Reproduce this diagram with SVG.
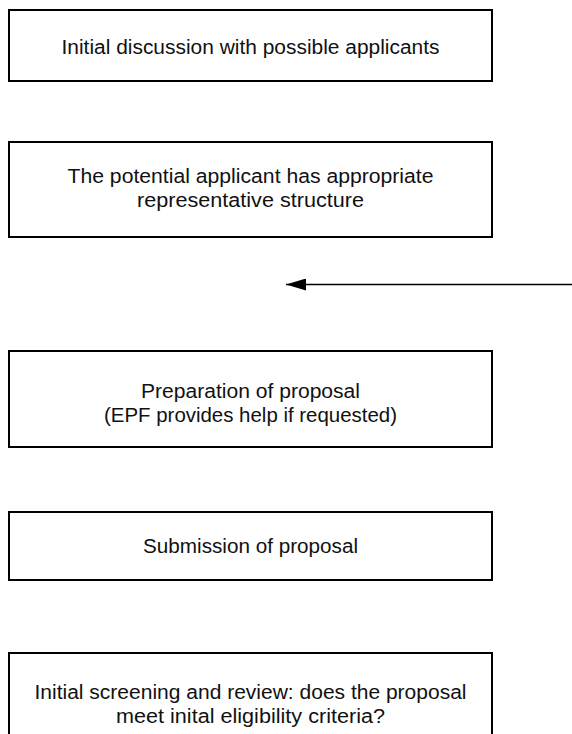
<svg xmlns="http://www.w3.org/2000/svg" width="572" height="734" viewBox="0 0 572 734">
<style>
.box{fill:#fff;stroke:#000;stroke-width:2}
.t{font-family:"Liberation Sans",Arial,sans-serif;font-size:20px;fill:#111;text-anchor:middle}
.c{stroke:#000;stroke-width:1.3;fill:none}
</style>
<defs>
<marker id="ah" markerWidth="20" markerHeight="12" refX="20" refY="6" orient="auto" markerUnits="userSpaceOnUse">
<path d="M0,0 L20,6 L0,12 Z" fill="#000"/>
</marker>
</defs>
<rect width="572" height="734" fill="#fff"/>
<g id="n1"><rect class="box" x="9" y="10" width="483" height="71"/><text class="t" x="250.5" y="54" textLength="378" lengthAdjust="spacingAndGlyphs">Initial discussion with possible applicants</text></g>
<g id="n2"><rect class="box" x="9" y="142" width="483" height="95"/><text class="t" x="250.5" y="183" textLength="366" lengthAdjust="spacingAndGlyphs">The potential applicant has appropriate</text><text class="t" x="250.5" y="207" textLength="227" lengthAdjust="spacingAndGlyphs">representative structure</text></g>
<g id="n3"><rect class="box" x="9" y="351" width="483" height="96"/><text class="t" x="250.5" y="398" textLength="219" lengthAdjust="spacingAndGlyphs">Preparation of proposal</text><text class="t" x="250.5" y="422" textLength="293" lengthAdjust="spacingAndGlyphs">(EPF provides help if requested)</text></g>
<g id="n4"><rect class="box" x="9" y="512" width="483" height="68"/><text class="t" x="250.5" y="553" textLength="215" lengthAdjust="spacingAndGlyphs">Submission of proposal</text></g>
<g id="n5"><rect class="box" x="9" y="653" width="483" height="90"/><text class="t" x="250.5" y="699" textLength="432" lengthAdjust="spacingAndGlyphs">Initial screening and review: does the proposal</text><text class="t" x="250.5" y="723" textLength="269" lengthAdjust="spacingAndGlyphs">meet inital eligibility criteria?</text></g>
<g id="connectors">
<path class="c" d="M572,284.5 L430,284.5 L286,284.5" marker-end="url(#ah)"/>
</g>
</svg>
